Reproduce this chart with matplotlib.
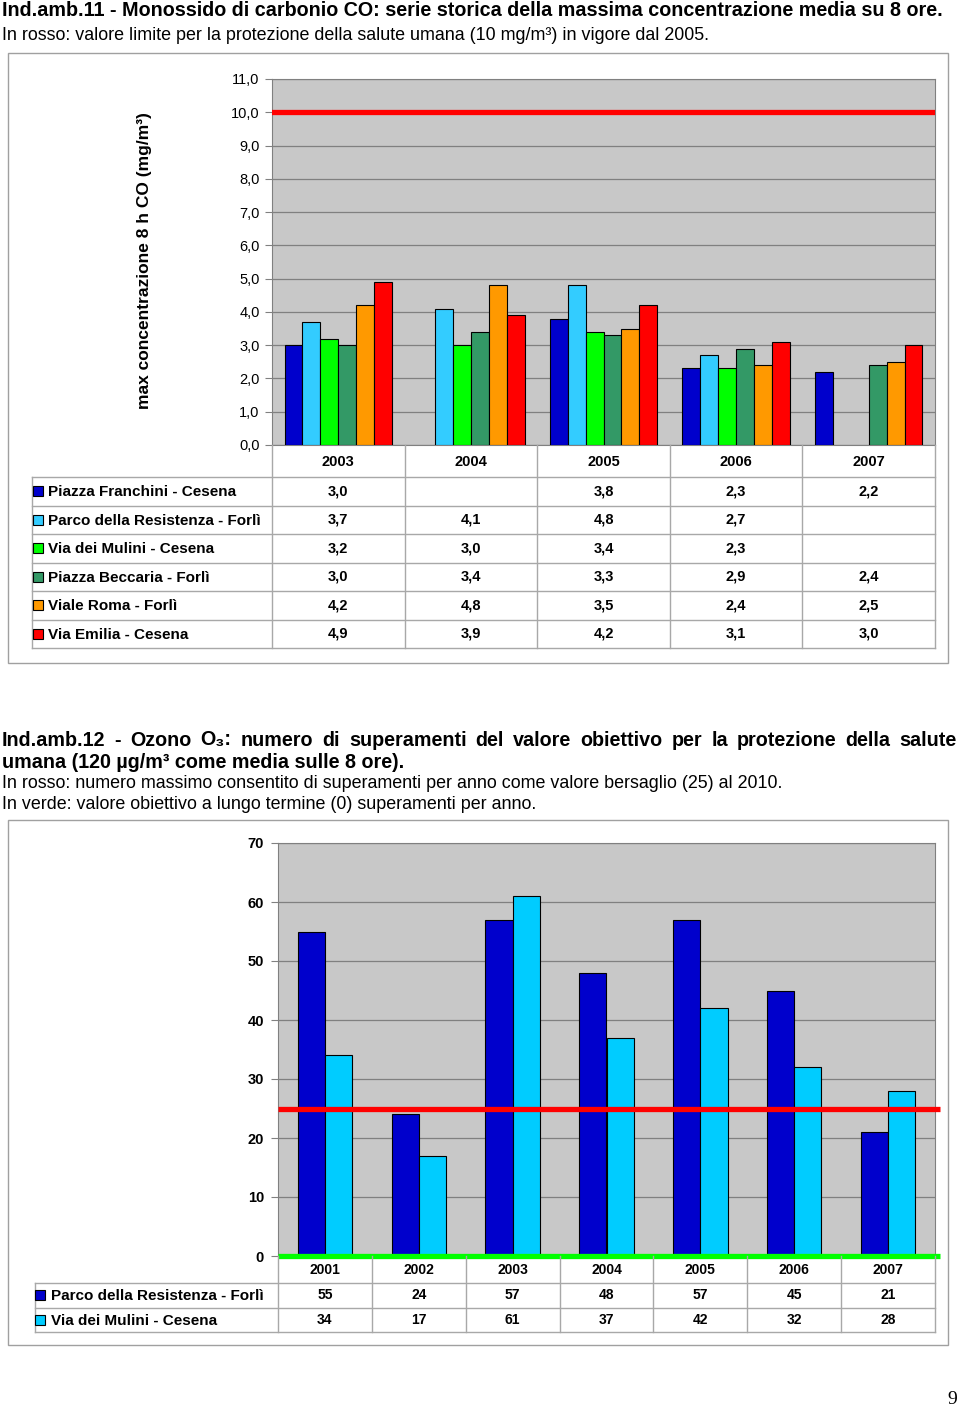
import matplotlib
matplotlib.use('Agg')
import matplotlib.pyplot as plt
from matplotlib import font_manager
from matplotlib.patches import Rectangle
import numpy as np

# ---- data -------------------------------------------------------------
co_years = ['2003', '2004', '2005', '2006', '2007']
co_stations = ['Piazza Franchini - Cesena', 'Parco della Resistenza - Forlì',
               'Via dei Mulini - Cesena', 'Piazza Beccaria - Forlì',
               'Viale Roma - Forlì', 'Via Emilia - Cesena']
piazza_franchini = [3.0, np.nan, 3.8, 2.3, 2.2]
parco_resistenza = [3.7, 4.1, 4.8, 2.7, np.nan]
via_mulini = [3.2, 3.0, 3.4, 2.3, np.nan]
piazza_beccaria = [3.0, 3.4, 3.3, 2.9, 2.4]
viale_roma = [4.2, 4.8, 3.5, 2.4, 2.5]
via_emilia = [4.9, 3.9, 4.2, 3.1, 3.0]
co_series = [piazza_franchini, parco_resistenza, via_mulini,
             piazza_beccaria, viale_roma, via_emilia]
co_colors = ['#0000CC', '#33CCFF', '#00FF00', '#339966', '#FF9900', '#FF0000']
co_limit = 10

o3_years = ['2001', '2002', '2003', '2004', '2005', '2006', '2007']
o3_stations = ['Parco della Resistenza - Forlì', 'Via dei Mulini - Cesena']
o3_parco = [55, 24, 57, 48, 57, 45, 21]
o3_mulini = [34, 17, 61, 37, 42, 32, 28]
o3_colors = ['#0000CC', '#00CCFF']
o3_target = 25
o3_longterm = 0

# ---- fonts ------------------------------------------------------------
def has_font(name):
    try:
        font_manager.findfont(name, fallback_to_default=False)
        return True
    except Exception:
        return False

narrow = 'Liberation Sans Narrow' if has_font('Liberation Sans Narrow') else 'Liberation Sans'
plt.rcParams['font.family'] = ['Liberation Sans', 'DejaVu Sans']

W, H = 960, 1413
GRID = '#808080'
TLINE = '#A8A8A8'
BG = '#C8C8C8'


def box(x0, y0, x1, y1):
    return [x0 / W, 1 - y1 / H, (x1 - x0) / W, (y1 - y0) / H]


def fx(px):
    return px / W


def fy(py):
    return 1 - py / H


fig = plt.figure(figsize=(W / 100, H / 100), dpi=100)
renderer = fig.canvas.get_renderer()


def fit_size(text, target, size, **kw):
    t = fig.text(0, 0, text, fontsize=size, **kw)
    w = t.get_window_extent(renderer).width
    t.remove()
    return size * target / w


def justified(text, x0, x1, ypx, **kw):
    words = text.split(' ')
    objs = [fig.text(0, fy(ypx), w, va='center', **kw) for w in words]
    widths = [o.get_window_extent(renderer).width for o in objs]
    gap = (x1 - x0 - sum(widths)) / (len(words) - 1)
    x = x0
    for o, w in zip(objs, widths):
        o.set_x(fx(x))
        x += w + gap


def data_table(rect, ncat, lab_px, years, labels, colors, rows, fmt, header_h, fs, lab_fs):
    x0, y0, x1, y1 = rect
    cat_px = (x1 - x0 - lab_px) / ncat
    tax = fig.add_axes(box(*rect))
    left = -0.5 - lab_px / cat_px
    tax.set_xlim(left, ncat - 0.5)
    tax.set_ylim(y1 - y0, 0)
    tax.axis('off')
    nrows = len(labels)
    row_h = (y1 - y0 - header_h) / nrows
    for k in range(nrows + 1):
        yy = header_h + k * row_h
        tax.plot([left, ncat - 0.5], [yy, yy], color=TLINE, lw=1, clip_on=False)
    for b in np.arange(-0.5, ncat, 1.0):
        tax.plot([b, b], [0, y1 - y0], color=TLINE, lw=1, clip_on=False)
    tax.plot([left, left], [header_h, y1 - y0], color=TLINE, lw=1, clip_on=False)
    for i, yr in enumerate(years):
        tax.text(i, header_h / 2 + 1, yr, ha='center', va='center',
                 fontsize=fs, fontweight='bold')
    for k, (lab, col, vals) in enumerate(zip(labels, colors, rows)):
        yc = header_h + (k + 0.5) * row_h
        tax.plot(left + 5.5 / cat_px, yc, marker='s', ms=6.5, mfc=col, mec='black',
                 mew=0.8, clip_on=False)
        tax.text(left + 16 / cat_px, yc + 1, lab, ha='left', va='center',
                 fontsize=lab_fs, fontweight='bold')
        for i, v in enumerate(vals):
            if not np.isnan(v):
                tax.text(i, yc, fmt(v), ha='center', va='center',
                         fontsize=fs, fontweight='bold')


# ---- titles -----------------------------------------------------------
t1 = 'Ind.amb.11 - Monossido di carbonio CO: serie storica della massima concentrazione media su 8 ore.'
ts = fit_size(t1, 943, 14, family=[narrow, 'DejaVu Sans'], fontweight='bold')
fig.text(fx(2), fy(1), t1, fontsize=ts, family=[narrow, 'DejaVu Sans'],
         fontweight='bold', va='top')
s1 = 'In rosso: valore limite per la protezione della salute umana (10 mg/m³) in vigore dal 2005.'
ss = fit_size(s1, 706, 12, family=[narrow, 'DejaVu Sans'])
fig.text(fx(2), fy(36), s1, fontsize=ss, family=[narrow, 'DejaVu Sans'], va='center')

justified('Ind.amb.12 - Ozono O₃: numero di superamenti del valore obiettivo per la protezione della salute',
          2, 957, 740, fontsize=ts, family=[narrow, 'DejaVu Sans'], fontweight='bold')
fig.text(fx(2), fy(762), 'umana (120 µg/m³ come media sulle 8 ore).', fontsize=ts,
         family=[narrow, 'DejaVu Sans'], fontweight='bold', va='center')
fig.text(fx(2), fy(784), 'In rosso: numero massimo consentito di superamenti per anno come valore bersaglio (25) al 2010.',
         fontsize=ss, family=[narrow, 'DejaVu Sans'], va='center')
fig.text(fx(2), fy(805), 'In verde: valore obiettivo a lungo termine (0) superamenti per anno.',
         fontsize=ss, family=[narrow, 'DejaVu Sans'], va='center')

# frames
for r in [(8, 53, 948, 663), (8, 820, 948, 1345)]:
    fig.patches.append(Rectangle((fx(r[0]), fy(r[3])), (r[2] - r[0]) / W, (r[3] - r[1]) / H,
                                 transform=fig.transFigure, fill=False,
                                 edgecolor='#A0A0A0', lw=1))

# ---- chart 1: CO ------------------------------------------------------
ax1 = fig.add_axes(box(272, 79, 935, 445))
ax1.set_facecolor(BG)
x = np.arange(len(co_years))
bw = 0.135
for j, (vals, col) in enumerate(zip(co_series, co_colors)):
    ax1.bar(x + (j - 2.5) * bw, vals, bw, color=col, edgecolor='black', lw=0.8, zorder=3)
ax1.axhline(co_limit, color='#FF0000', lw=3.8, zorder=4)
ax1.set_xlim(-0.5, len(co_years) - 0.5)
ax1.set_ylim(0, 11)
ax1.set_yticks(np.arange(0, 12))
ax1.set_yticklabels([f'{v:.1f}'.replace('.', ',') for v in np.arange(0, 12)], fontsize=10.5)
ax1.set_xticks([])
ax1.grid(axis='y', color=GRID, lw=0.9, zorder=0)
ax1.set_axisbelow(True)
ax1.tick_params(axis='y', length=5, color=GRID, pad=4)
for s in ax1.spines.values():
    s.set_color(GRID)
fig.text(fx(145), fy(261), 'max concentrazione 8 h CO (mg/m³)', rotation=90,
         ha='center', va='center', fontsize=12.5, fontweight='bold')

data_table((32, 445, 935, 648), len(co_years), 240, co_years, co_stations, co_colors,
           co_series, lambda v: f'{v:.1f}'.replace('.', ','), 32, 10.5, 11)

# ---- chart 2: O3 ------------------------------------------------------
ax2 = fig.add_axes(box(278, 843, 935, 1256))
ax2.set_facecolor(BG)
x2 = np.arange(len(o3_years))
bw2 = 0.29
for j, (vals, col) in enumerate(zip([o3_parco, o3_mulini], o3_colors)):
    ax2.bar(x2 + (j - 0.5) * bw2, vals, bw2, color=col, edgecolor='black', lw=0.8, zorder=3)
ax2.set_xlim(-0.5, len(o3_years) - 0.5)
ax2.set_ylim(0, 70)
ax2.plot([-0.5, len(o3_years) - 0.45], [o3_target, o3_target], color='#FF0000', lw=3.8,
         zorder=4, clip_on=False, solid_capstyle='butt')
ax2.plot([-0.5, len(o3_years) - 0.45], [o3_longterm, o3_longterm], color='#00FF00', lw=3.8,
         zorder=4, clip_on=False, solid_capstyle='butt')
ax2.set_yticks(np.arange(0, 71, 10))
ax2.set_yticklabels([str(v) for v in range(0, 71, 10)], fontsize=10.5, fontweight='bold')
ax2.set_xticks([])
ax2.grid(axis='y', color=GRID, lw=0.9, zorder=0)
ax2.set_axisbelow(True)
ax2.tick_params(axis='y', length=5, color=GRID, pad=5)
for s in ax2.spines.values():
    s.set_color(GRID)

data_table((35, 1256, 935, 1332), len(o3_years), 243, o3_years, o3_stations, o3_colors,
           [np.array(o3_parco, float), np.array(o3_mulini, float)],
           lambda v: f'{int(v)}', 27, 10, 11)

fig.text(fx(952), fy(1400), '9', fontsize=14, family=['Liberation Serif', 'DejaVu Serif'],
         ha='center', va='center')

fig.savefig('out.png', dpi=100)
